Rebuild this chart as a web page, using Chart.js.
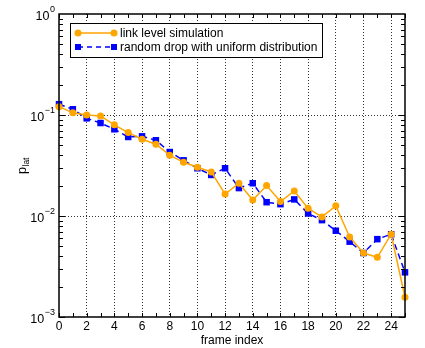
<!DOCTYPE html>
<html>
<head>
<meta charset="utf-8">
<script src="https://cdn.jsdelivr.net/npm/chart.js@4/dist/chart.umd.min.js"></script>
<style>
  html, body { margin: 0; padding: 0; background: #fff; }
</style>
</head>
<body>
<canvas id="chart" width="425" height="348"></canvas>
<script>

// ---------- DATA ----------
const frames = [0, 1, 2, 3, 4, 5, 6, 7, 8, 9, 10, 11, 12, 13, 14, 15, 16, 17, 18, 19, 20, 21, 22, 23, 24, 25];

const linkLevel = [0.121, 0.105, 0.100, 0.098, 0.080, 0.067, 0.0575, 0.0513, 0.040, 0.034,
                   0.0304, 0.0273, 0.0165, 0.0211, 0.0144, 0.020, 0.0139, 0.0177, 0.0119, 0.0098,
                   0.0126, 0.0062, 0.0043, 0.0039, 0.0066, 0.00157];

const randomDrop = [0.128, 0.114, 0.0927, 0.0833, 0.0722, 0.0606, 0.0615, 0.0562, 0.043, 0.0356,
                    0.0297, 0.0255, 0.0297, 0.0189, 0.0211, 0.0137, 0.0131, 0.0146, 0.0106, 0.0091,
                    0.00715, 0.00557, 0.0043, 0.0059, 0.0066, 0.00277];

const seriesNames = ['link level simulation', 'random drop with uniform distribution'];
const xTickLabels = [0, 2, 4, 6, 8, 10, 12, 14, 16, 18, 20, 22, 24];
const yExponents = [-3, -2, -1, 0];

const FONT = '"Liberation Sans", Arial, Helvetica, sans-serif';
const ORANGE = '#FFA500';
const BLUE = '#0000FF';


// ---------- PLUGIN : cadre, ticks, labels, legende ----------
const decorPlugin = {
  id: 'decor',
  afterDraw(chart) {
    const ctx = chart.ctx;
    const a = chart.chartArea;
    const xs = chart.scales.x;
    const ys = chart.scales.y;

    ctx.save();
    ctx.strokeStyle = '#000';
    ctx.lineWidth = 1;

    // ticks x (bas + haut, vers l'interieur)
    frames.forEach(f => {
      const px = Math.round(xs.getPixelForValue(f)) + 0.5;
      ctx.beginPath();
      ctx.moveTo(px, a.bottom); ctx.lineTo(px, a.bottom - 4);
      ctx.moveTo(px, a.top); ctx.lineTo(px, a.top + 4);
      ctx.stroke();
    });

    // ticks y (gauche + droite)
    for (let e = -3; e < 0; e++) {
      for (let m = 1; m <= 9; m++) {
        const py = Math.round(ys.getPixelForValue(m * Math.pow(10, e))) + 0.5;
        const len = m === 1 ? 6 : 4;
        ctx.beginPath();
        ctx.moveTo(a.left, py); ctx.lineTo(a.left + len, py);
        ctx.moveTo(a.right, py); ctx.lineTo(a.right - len, py);
        ctx.stroke();
      }
    }

    // cadre
    ctx.lineWidth = 1.5;
    ctx.strokeRect(a.left, a.top, a.right - a.left, a.bottom - a.top);

    // labels y : 10^e
    ctx.fillStyle = '#000';
    ctx.textBaseline = 'middle';
    yExponents.forEach(e => {
      const py = ys.getPixelForValue(Math.pow(10, e));
      const sup = String(e).replace('-', '\u2212');
      ctx.font = '9px ' + FONT;
      const wSup = ctx.measureText(sup).width;
      ctx.textAlign = 'left';
      const xEnd = a.left - 4;
      ctx.fillText(sup, xEnd - wSup, py - 4);
      ctx.font = '12.5px ' + FONT;
      ctx.textAlign = 'right';
      ctx.fillText('10', xEnd - wSup - 0.5, py + 3);
    });

    // titre y : p_lat
    ctx.save();
    ctx.translate(22, 166);
    ctx.rotate(-Math.PI / 2);
    ctx.font = '12.5px ' + FONT;
    ctx.textAlign = 'left';
    ctx.textBaseline = 'alphabetic';
    const wp = ctx.measureText('p').width;
    ctx.font = '8.5px ' + FONT;
    const wl = ctx.measureText('lat').width;
    const x0 = -(wp + wl) / 2;
    ctx.font = '12.5px ' + FONT;
    ctx.fillText('p', x0, 4);
    ctx.font = '8.5px ' + FONT;
    ctx.fillText('lat', x0 + wp + 0.5, 7);
    ctx.restore();

    // legende
    const lx = 70.5, ly = 23.5, lw = 252, lh = 34;
    ctx.fillStyle = '#fff';
    ctx.fillRect(lx, ly, lw, lh);
    ctx.lineWidth = 1;
    ctx.strokeStyle = '#000';
    ctx.strokeRect(lx, ly, lw, lh);

    const rows = [
      { y: 33, color: ORANGE, dash: [], style: 'circle' },
      { y: 47, color: BLUE, dash: [5, 4], style: 'rect' }
    ];
    rows.forEach((r, i) => {
      ctx.strokeStyle = r.color;
      ctx.fillStyle = r.color;
      ctx.lineWidth = 1.5;
      ctx.setLineDash(r.dash);
      ctx.beginPath();
      ctx.moveTo(78, r.y); ctx.lineTo(114, r.y);
      ctx.stroke();
      ctx.setLineDash([]);
      [78, 114].forEach(mx => {
        if (r.style === 'circle') {
          ctx.beginPath();
          ctx.arc(mx, r.y, 3.5, 0, Math.PI * 2);
          ctx.fill();
        } else {
          ctx.fillRect(mx - 3, r.y - 3, 6, 6);
        }
      });
      ctx.fillStyle = '#000';
      ctx.font = '12px ' + FONT;
      ctx.textAlign = 'left';
      ctx.textBaseline = 'middle';
      ctx.fillText(seriesNames[i], 120, r.y + 0.5);
    });

    ctx.restore();
  }
};


// ---------- GRAPHIQUE ----------
const isDecade = v => Math.abs(Math.log10(v) - Math.round(Math.log10(v))) < 1e-9;

new Chart(document.getElementById('chart').getContext('2d'), {
  type: 'line',
  data: {
    datasets: [
      {
        label: seriesNames[0],
        data: frames.map((f, i) => ({ x: f, y: linkLevel[i] })),
        borderColor: ORANGE,
        backgroundColor: ORANGE,
        borderWidth: 1.5,
        pointStyle: 'circle',
        pointRadius: 3.5,
        pointBorderWidth: 0,
        tension: 0,
        clip: false
      },
      {
        label: seriesNames[1],
        data: frames.map((f, i) => ({ x: f, y: randomDrop[i] })),
        borderColor: BLUE,
        backgroundColor: BLUE,
        borderWidth: 1.5,
        borderDash: [6, 4],
        pointStyle: 'rect',
        pointRadius: 4.6,
        pointBorderWidth: 0,
        tension: 0,
        clip: false
      }
    ]
  },
  options: {
    responsive: false,
    animation: false,
    events: [],
    layout: { padding: { top: 14, right: 20, left: 0, bottom: 0 } },
    plugins: {
      legend: { display: false },
      tooltip: { enabled: false }
    },
    scales: {
      x: {
        type: 'linear',
        min: 0,
        max: 25,
        afterFit: s => { s.height = 31; },
        afterBuildTicks: s => { s.ticks = frames.map(v => ({ value: v })); },
        ticks: {
          autoSkip: false,
          maxRotation: 0,
          padding: 2,
          color: '#000',
          font: { family: FONT, size: 12 },
          callback: v => xTickLabels.includes(v) ? String(v) : ''
        },
        grid: {
          drawTicks: false,
          color: c => (c.tick && xTickLabels.includes(c.tick.value) && c.tick.value !== 0) ? '#333' : 'rgba(0,0,0,0)',
          lineWidth: 1
        },
        border: { display: false, dash: [1, 2] },
        title: {
          display: true,
          text: 'frame index',
          color: '#000',
          padding: 0,
          font: { family: FONT, size: 12 }
        }
      },
      y: {
        type: 'logarithmic',
        min: 0.001,
        max: 1,
        afterFit: s => { s.width = 59; },
        ticks: { display: false },
        grid: {
          drawTicks: false,
          color: c => (c.tick && isDecade(c.tick.value) && c.tick.value > 0.001 && c.tick.value < 1) ? '#333' : 'rgba(0,0,0,0)',
          lineWidth: 1
        },
        border: { display: false, dash: [1, 2] }
      }
    }
  },
  plugins: [decorPlugin]
});

</script>
</body>
</html>
